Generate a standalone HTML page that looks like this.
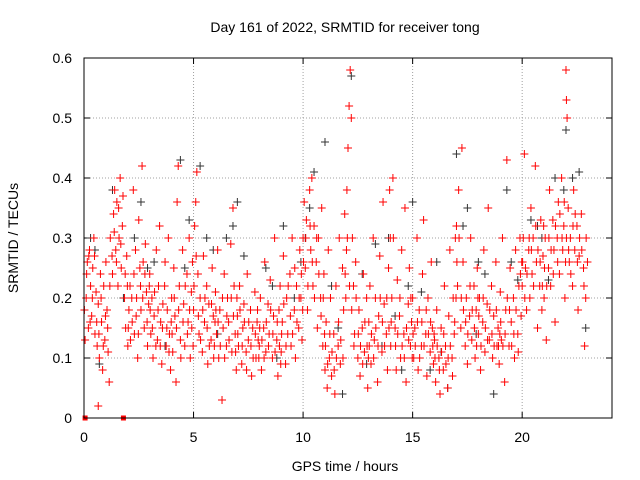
<!DOCTYPE html>
<html><head><meta charset="utf-8">
<style>
body{margin:0;background:#fff;}
svg{display:block;font-family:"Liberation Sans",sans-serif;}
</style></head>
<body>
<svg id="chart" width="640" height="480">
<text x="345" y="32" font-size="14" text-anchor="middle">Day 161 of 2022, SRMTID for receiver tong</text>
<text x="345" y="471" font-size="14" text-anchor="middle">GPS time / hours</text>
<text transform="translate(18,238) rotate(-90)" font-size="14" text-anchor="middle">SRMTID / TECUs</text>
<g id="grid"></g>
<g id="ticks"></g>
<g id="black"></g>
<g id="red"></g>
<rect x="84" y="58" width="528" height="360" fill="none" stroke="#000" stroke-width="1"/>
</svg>
<script>
const xTicks=[0,5,10,15,20];
const yTicks=[0,0.1,0.2,0.3,0.4,0.5,0.6];
const yTickLabels=["0","0.1","0.2","0.3","0.4","0.5","0.6"];
const squarePoints=[[0.05,0],[1.8,0]];
const redPoints=[[0.05,0.13],[0.1,0.2],[0.15,0.26],[0.2,0.15],[0.25,0.28],[0.3,0.22],[0.35,0.17],[0.4,0.25],[0.45,0.3],[0.5,0.14],[0.55,0.21],[0.6,0.12],[0.65,0.19],[0.7,0.1],[0.75,0.24],[0.8,0.16],[0.85,0.08],[0.9,0.22],[0.95,0.13],[0.65,0.02],
[1.0,0.26],[1.05,0.18],[1.1,0.11],[1.15,0.06],[1.2,0.3],[1.3,0.24],[1.35,0.34],[1.4,0.38],[1.45,0.28],[1.5,0.36],[1.55,0.22],[1.6,0.3],[1.65,0.4],[1.7,0.25],[1.75,0.32],[1.85,0.2],[1.9,0.15],[1.95,0.27],
[2.0,0.12],[2.05,0.18],[2.1,0.22],[2.2,0.16],[2.25,0.38],[2.3,0.14],[2.35,0.28],[2.4,0.2],[2.45,0.1],[2.5,0.33],[2.55,0.25],[2.6,0.18],[2.65,0.42],[2.7,0.26],[2.75,0.15],[2.8,0.29],[2.85,0.21],[2.9,0.12],[2.95,0.19],
[3.0,0.24],[3.05,0.14],[3.1,0.2],[3.15,0.1],[3.2,0.17],[3.3,0.28],[3.35,0.13],[3.4,0.22],[3.45,0.32],[3.5,0.16],[3.55,0.09],[3.6,0.19],[3.7,0.26],[3.75,0.12],[3.8,0.18],[3.85,0.3],[3.9,0.14],[3.95,0.08],
[4.0,0.2],[4.05,0.11],[4.1,0.25],[4.15,0.17],[4.2,0.06],[4.25,0.36],[4.3,0.42],[4.35,0.22],[4.4,0.13],[4.5,0.28],[4.55,0.19],[4.6,0.12],[4.7,0.24],[4.75,0.16],[4.8,0.3],[4.85,0.1],[4.9,0.21],[4.95,0.26],
[5.0,0.18],[5.05,0.32],[5.1,0.36],[5.15,0.41],[5.2,0.24],[5.25,0.14],[5.3,0.2],[5.4,0.11],[5.45,0.27],[5.5,0.16],[5.6,0.22],[5.65,0.09],[5.7,0.19],[5.8,0.13],[5.85,0.25],[5.9,0.17],[5.95,0.12],
[6.0,0.21],[6.05,0.14],[6.1,0.28],[6.15,0.1],[6.2,0.18],[6.3,0.03],[6.35,0.15],[6.4,0.24],[6.5,0.12],[6.55,0.2],[6.6,0.16],[6.7,0.29],[6.75,0.11],[6.8,0.35],[6.85,0.22],[6.9,0.14],[6.95,0.08],
[7.0,0.17],[7.05,0.12],[7.1,0.22],[7.2,0.09],[7.25,0.15],[7.3,0.19],[7.4,0.11],[7.45,0.24],[7.5,0.13],[7.6,0.18],[7.65,0.07],[7.7,0.15],[7.8,0.21],[7.85,0.1],[7.9,0.16],[7.95,0.13],
[8.0,0.12],[8.05,0.2],[8.1,0.08],[8.2,0.15],[8.25,0.26],[8.3,0.11],[8.4,0.19],[8.45,0.14],[8.5,0.23],[8.6,0.1],[8.65,0.17],[8.7,0.3],[8.8,0.13],[8.85,0.07],[8.9,0.18],[8.95,0.22],
[9.0,0.11],[9.05,0.16],[9.1,0.27],[9.2,0.09],[9.25,0.2],[9.3,0.14],[9.4,0.24],[9.45,0.12],[9.5,0.3],[9.6,0.18],[9.65,0.1],[9.7,0.22],[9.8,0.15],[9.85,0.28],[9.9,0.2],[9.95,0.13],
[10.0,0.3],[10.05,0.36],[10.1,0.25],[10.15,0.33],[10.2,0.18],[10.3,0.38],[10.35,0.28],[10.4,0.4],[10.45,0.22],[10.5,0.32],[10.6,0.26],[10.65,0.15],[10.7,0.3],[10.8,0.2],[10.85,0.35],[10.9,0.12],[10.95,0.24],
[11.0,0.08],[11.05,0.16],[11.1,0.05],[11.15,0.28],[11.2,0.1],[11.25,0.2],[11.3,0.07],[11.4,0.14],[11.45,0.04],[11.5,0.22],[11.6,0.12],[11.65,0.3],[11.7,0.09],[11.8,0.25],[11.85,0.18],[11.9,0.34],[11.95,0.2],
[12.0,0.38],[12.05,0.45],[12.1,0.52],[12.15,0.58],[12.2,0.5],[12.25,0.3],[12.3,0.22],[12.35,0.14],[12.4,0.26],[12.5,0.1],[12.55,0.18],[12.6,0.07],[12.7,0.15],[12.75,0.24],[12.8,0.11],[12.9,0.2],[12.95,0.05],
[13.0,0.16],[13.05,0.22],[13.1,0.09],[13.2,0.3],[13.25,0.13],[13.3,0.2],[13.4,0.06],[13.45,0.17],[13.5,0.27],[13.6,0.11],[13.65,0.36],[13.7,0.19],[13.8,0.14],[13.85,0.08],[13.9,0.25],[13.95,0.38],
[14.0,0.12],[14.05,0.2],[14.1,0.4],[14.2,0.15],[14.25,0.08],[14.3,0.23],[14.4,0.17],[14.45,0.1],[14.5,0.28],[14.6,0.14],[14.65,0.35],[14.7,0.06],[14.8,0.19],[14.85,0.25],[14.9,0.12],[14.95,0.16],
[15.0,0.2],[15.05,0.1],[15.1,0.15],[15.2,0.3],[15.25,0.08],[15.3,0.18],[15.4,0.12],[15.45,0.24],[15.5,0.33],[15.6,0.14],[15.65,0.07],[15.7,0.2],[15.8,0.11],[15.85,0.26],[15.9,0.15],[15.95,0.09],
[16.0,0.13],[16.05,0.06],[16.1,0.18],[16.2,0.1],[16.25,0.04],[16.3,0.15],[16.4,0.08],[16.45,0.22],[16.5,0.12],[16.6,0.05],[16.65,0.17],[16.7,0.28],[16.8,0.1],[16.85,0.2],[16.9,0.14],[16.95,0.3],
[17.0,0.32],[17.05,0.22],[17.1,0.38],[17.2,0.15],[17.25,0.45],[17.3,0.26],[17.4,0.12],[17.45,0.2],[17.5,0.09],[17.6,0.17],[17.65,0.3],[17.7,0.13],[17.8,0.22],[17.85,0.1],[17.9,0.18],[17.95,0.25],
[18.0,0.14],[18.05,0.2],[18.1,0.08],[18.2,0.16],[18.25,0.28],[18.3,0.11],[18.4,0.19],[18.45,0.35],[18.5,0.13],[18.6,0.22],[18.65,0.1],[18.7,0.17],[18.8,0.26],[18.85,0.12],[18.9,0.15],[18.95,0.09],
[19.0,0.21],[19.05,0.13],[19.1,0.3],[19.2,0.06],[19.25,0.18],[19.3,0.43],[19.4,0.12],[19.45,0.25],[19.5,0.16],[19.6,0.2],[19.65,0.1],[19.7,0.28],[19.8,0.14],[19.85,0.22],[19.9,0.3],[19.95,0.17],
[20.0,0.22],[20.05,0.3],[20.1,0.44],[20.15,0.25],[20.2,0.18],[20.3,0.28],[20.35,0.2],[20.4,0.35],[20.45,0.24],[20.5,0.3],[20.6,0.42],[20.65,0.26],[20.7,0.15],[20.8,0.22],[20.85,0.33],[20.9,0.18],[20.95,0.27],
[21.0,0.2],[21.05,0.3],[21.1,0.13],[21.2,0.25],[21.25,0.38],[21.3,0.22],[21.4,0.33],[21.45,0.28],[21.5,0.16],[21.6,0.3],[21.65,0.36],[21.7,0.24],[21.8,0.4],[21.85,0.28],[21.9,0.32],[21.95,0.2],
[22.0,0.58],[22.02,0.53],[22.05,0.5],[22.1,0.35],[22.15,0.26],[22.2,0.3],[22.3,0.22],[22.35,0.38],[22.4,0.28],[22.5,0.32],[22.55,0.18],[22.6,0.27],[22.7,0.34],[22.8,0.25],[22.85,0.12],[22.9,0.2]];
const redPointsExtra=[[0.02,0.18],[0.12,0.24],[0.22,0.27],[0.28,0.16],[0.38,0.2],[0.48,0.27],[0.58,0.16],[0.68,0.14],[0.78,0.2],[0.88,0.12],[0.98,0.17],
[1.08,0.15],[1.18,0.22],[1.28,0.27],[1.38,0.31],[1.48,0.26],[1.58,0.35],[1.68,0.29],[1.78,0.37],[1.88,0.24],[1.98,0.22],
[2.02,0.15],[2.12,0.13],[2.18,0.2],[2.28,0.24],[2.38,0.17],[2.48,0.14],[2.58,0.22],[2.68,0.2],[2.78,0.24],[2.88,0.16],[2.98,0.22],
[3.02,0.18],[3.12,0.15],[3.22,0.21],[3.28,0.12],[3.38,0.18],[3.48,0.12],[3.58,0.15],[3.68,0.22],[3.78,0.15],[3.88,0.11],[3.98,0.16],
[4.02,0.14],[4.12,0.2],[4.22,0.15],[4.32,0.18],[4.42,0.1],[4.52,0.16],[4.62,0.22],[4.72,0.14],[4.82,0.18],[4.92,0.15],[4.98,0.12],
[5.02,0.22],[5.12,0.27],[5.22,0.17],[5.32,0.13],[5.42,0.18],[5.52,0.2],[5.62,0.15],[5.72,0.12],[5.82,0.19],[5.92,0.1],[5.98,0.16],
[6.02,0.18],[6.12,0.16],[6.22,0.12],[6.32,0.2],[6.42,0.1],[6.52,0.17],[6.62,0.13],[6.72,0.2],[6.82,0.17],[6.92,0.11],[6.98,0.2],
[7.02,0.14],[7.12,0.18],[7.22,0.12],[7.32,0.16],[7.42,0.08],[7.52,0.16],[7.62,0.12],[7.72,0.1],[7.82,0.14],[7.92,0.18],[7.98,0.1],
[8.02,0.15],[8.12,0.13],[8.22,0.1],[8.32,0.16],[8.42,0.12],[8.52,0.18],[8.62,0.14],[8.72,0.11],[8.82,0.16],[8.92,0.12],[8.98,0.09],
[9.02,0.14],[9.12,0.19],[9.22,0.12],[9.32,0.22],[9.42,0.17],[9.52,0.14],[9.62,0.25],[9.72,0.16],[9.82,0.2],[9.92,0.24],[9.98,0.18],
[10.02,0.26],[10.12,0.3],[10.22,0.22],[10.32,0.32],[10.42,0.26],[10.52,0.2],[10.62,0.3],[10.72,0.24],[10.82,0.17],[10.92,0.2],[10.98,0.14],
[11.02,0.12],[11.12,0.09],[11.22,0.14],[11.32,0.11],[11.42,0.08],[11.52,0.1],[11.62,0.16],[11.72,0.13],[11.82,0.1],[11.92,0.24],[11.98,0.28],
[12.02,0.3],[12.12,0.22],[12.22,0.18],[12.32,0.12],[12.42,0.2],[12.52,0.14],[12.62,0.12],[12.72,0.09],[12.82,0.16],[12.92,0.12],[12.98,0.1],
[13.02,0.12],[13.12,0.14],[13.22,0.1],[13.32,0.15],[13.42,0.12],[13.52,0.2],[13.62,0.16],[13.72,0.12],[13.82,0.2],[13.92,0.15],[13.98,0.3],
[14.02,0.16],[14.12,0.3],[14.22,0.12],[14.32,0.14],[14.42,0.2],[14.52,0.12],[14.62,0.1],[14.72,0.15],[14.82,0.13],[14.92,0.2],[14.98,0.1],
[15.02,0.14],[15.12,0.12],[15.22,0.16],[15.32,0.1],[15.42,0.16],[15.52,0.12],[15.62,0.18],[15.72,0.14],[15.82,0.16],[15.92,0.12],[15.98,0.14],
[16.02,0.1],[16.12,0.12],[16.22,0.08],[16.32,0.11],[16.42,0.14],[16.52,0.09],[16.62,0.1],[16.72,0.12],[16.82,0.07],[16.92,0.16],[16.98,0.2],
[17.02,0.26],[17.12,0.3],[17.22,0.2],[17.32,0.18],[17.42,0.16],[17.52,0.14],[17.62,0.22],[17.72,0.18],[17.82,0.15],[17.92,0.12],[17.98,0.2],
[18.02,0.17],[18.12,0.12],[18.22,0.2],[18.32,0.15],[18.42,0.13],[18.52,0.18],[18.62,0.14],[18.72,0.12],[18.82,0.18],[18.92,0.12],[18.98,0.14],
[19.02,0.16],[19.12,0.12],[19.22,0.14],[19.32,0.2],[19.42,0.18],[19.52,0.12],[19.62,0.14],[19.72,0.18],[19.82,0.11],[19.92,0.24],[19.98,0.26],
[20.02,0.26],[20.12,0.2],[20.22,0.24],[20.32,0.3],[20.42,0.28],[20.52,0.22],[20.62,0.32],[20.72,0.28],[20.82,0.26],[20.92,0.22],[20.98,0.32],
[21.02,0.25],[21.12,0.22],[21.22,0.3],[21.32,0.28],[21.42,0.24],[21.52,0.32],[21.62,0.26],[21.72,0.34],[21.82,0.3],[21.92,0.36],[21.98,0.26],
[22.02,0.3],[22.12,0.28],[22.22,0.24],[22.32,0.32],[22.42,0.34],[22.52,0.26],[22.62,0.3],[22.72,0.28],[22.82,0.22],[22.92,0.3],[22.98,0.26]];
const blackPoints=[[0.3,0.3],[0.7,0.09],[1.3,0.38],[2.6,0.36],[3.2,0.26],[4.4,0.43],[4.8,0.33],[5.3,0.42],[5.9,0.28],[6.5,0.3],[7.0,0.36],[7.6,0.18],[8.3,0.25],[9.1,0.32],[9.6,0.2],[10.1,0.3],[10.5,0.41],[11.0,0.46],[11.3,0.22],[11.8,0.04],[12.2,0.57],[12.7,0.24],[13.3,0.29],[13.9,0.3],[14.5,0.08],[15.0,0.36],[15.4,0.21],[16.1,0.26],[16.6,0.05],[17.0,0.44],[17.5,0.35],[18.0,0.26],[18.7,0.04],[19.3,0.38],[19.8,0.23],[20.4,0.33],[20.9,0.3],[21.5,0.4],[22.0,0.48],[22.6,0.41],[22.9,0.15],[1.8,0.2],[3.7,0.12],[6.1,0.14],[8.8,0.1],[12.9,0.09],[14.2,0.17],[16.3,0.11],[17.9,0.14],[21.2,0.23],
[0.5,0.28],[2.3,0.3],[4.6,0.25],[5.6,0.3],[7.3,0.27],[8.6,0.22],[10.3,0.35],[11.6,0.15],[13.6,0.12],[15.8,0.08],[17.3,0.32],[18.3,0.24],[19.5,0.26],[20.7,0.32],[22.3,0.4],[2.9,0.25],[6.8,0.32],[9.9,0.26],[14.8,0.22],[21.9,0.38]];

const X0=84,X1=612,Y0=418,Y1=58,XMAX=24.1,YMAX=0.6;
function xs(t){return X0+(X1-X0)*t/XMAX;}
function ys(v){return Y0-(Y0-Y1)*v/YMAX;}
const NS='http://www.w3.org/2000/svg';
function mk(tag,attrs,parent){const e=document.createElementNS(NS,tag);for(const k in attrs)e.setAttribute(k,attrs[k]);parent.appendChild(e);return e;}
const grid=document.getElementById('grid'),ticks=document.getElementById('ticks');
xTicks.forEach(t=>{const x=xs(t);
  if(t>0){const g=mk('line',{x1:x,y1:Y0,x2:x,y2:Y1,stroke:'#a0a0a0','stroke-dasharray':'1,2'},grid);
  
  }
  mk('line',{x1:x,y1:Y0,x2:x,y2:Y0-6,stroke:'#000'},ticks);
  mk('line',{x1:x,y1:Y1,x2:x,y2:Y1+6,stroke:'#000'},ticks);
  const l=mk('text',{x:x,y:Y0+24,'font-size':14,'text-anchor':'middle'},ticks);l.textContent=t;
  
  
});
yTicks.forEach((v,i)=>{const y=ys(v);
  if(v>0&&v<YMAX){const g=mk('line',{x1:X0,y1:y,x2:X1,y2:y,stroke:'#a0a0a0','stroke-dasharray':'1,2'},grid);
  
  }
  mk('line',{x1:X0,y1:y,x2:X0+6,y2:y,stroke:'#000'},ticks);
  mk('line',{x1:X1,y1:y,x2:X1-6,y2:y,stroke:'#000'},ticks);
  const l=mk('text',{x:X0-12,y:y+5,'font-size':14,'text-anchor':'end'},ticks);l.textContent=yTickLabels[i];
  
  
});
function plus(g,t,v,c,name){const x=xs(t),y=ys(v);
  const p=mk('path',{d:`M${x-4},${y}H${x+4}M${x},${y-4}V${y+4}`,stroke:c,'stroke-width':1,fill:'none'},g);
  
  }
const bg=document.getElementById('black'),rg=document.getElementById('red');
blackPoints.forEach(p=>plus(bg,p[0],p[1],'#333','black-point'));
redPoints.forEach(p=>plus(rg,p[0],p[1],'#f00','red-point'));
redPointsExtra.forEach(p=>plus(rg,p[0],p[1],'#f00','red-point'));
squarePoints.forEach(p=>{const s=mk('rect',{x:xs(p[0])-2.5,y:ys(p[1])-2.5,width:5,height:5,fill:'#f00'},rg);
  
  });
</script>
</body></html>
